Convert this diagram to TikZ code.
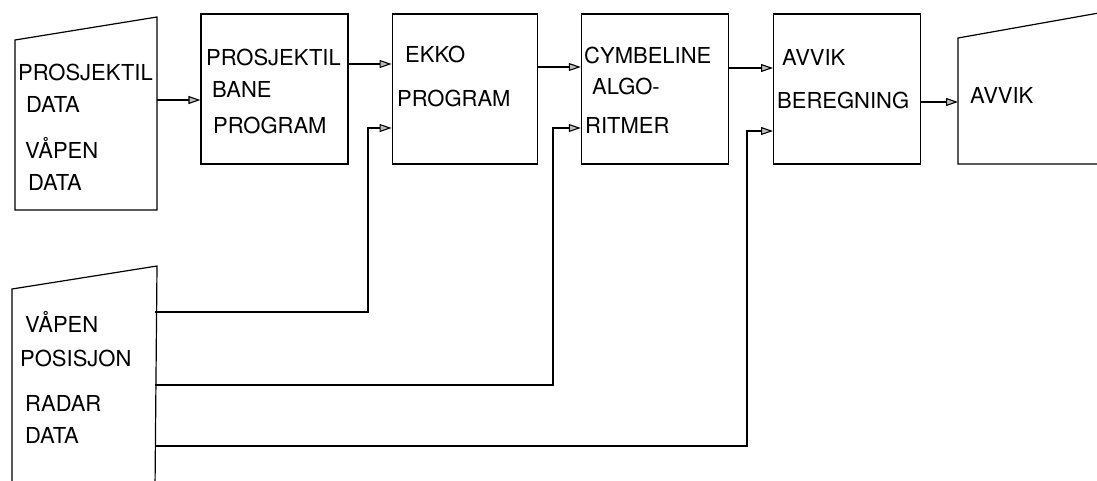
\documentclass[tikz,border=0pt]{standalone}
\usepackage{fontspec}
\setsansfont{TeX Gyre Heros}
\usetikzlibrary{arrows.meta,positioning}
\tikzset{
  blokk/.style={draw,line width=1.2pt,minimum width=147pt,
    minimum height=150pt,inner sep=0pt},
  tekst/.style={font=\sffamily\fontsize{22}{32}\selectfont,
    align=left,anchor=base west,inner sep=0pt},
  pil/.style={line width=1.1pt,
    -{Triangle[length=12pt,width=8pt,fill=gray!50]}},
  linje/.style={line width=1.2pt},
}
\begin{document}
\begin{tikzpicture}[x=1pt,y=-1pt]
  \useasboundingbox (0,0) rectangle (1097,480);
  \clip (0,0) rectangle (1097,480);
  % inndata (tekstnodene festes i siste linjes grunnlinje)
  \draw[linje] (15,210) -- (15,40) -- (157,17) -- (157,210) -- cycle;
  \coordinate (inn1) at (157,100);
  \node[tekst] (inn1-t) at (18,190)
    {PROSJEKTIL\\\hspace*{8pt}DATA\\[14pt]\hspace*{7pt}VÅPEN\\\hspace*{10pt}DATA};
  \draw[linje] (12,490) -- (12,289) -- (157,266) -- (155,490);
  \coordinate (ut1) at (155,312);
  \coordinate (ut2) at (155,385);
  \coordinate (ut3) at (155,446);
  \node[tekst] (inn2-t) at (20,443)
    {\hspace*{5pt}VÅPEN\\[2pt]POSISJON\\[13pt]\hspace*{5pt}RADAR\\\hspace*{5pt}DATA};
  % programblokker
  \node[blokk] (prog) at (274.5,89) {};
  \node[blokk,minimum width=145pt,right=43pt of prog] (ekko) {};
  \node[blokk,right=43pt of ekko] (cymb) {};
  \node[blokk,right=44pt of cymb] (avvik) {};
  \node[tekst] (prog-t) at (206,133)
    {PROSJEKTIL\\\hspace*{6pt}BANE\\[4pt]\hspace*{7pt}PROGRAM};
  \node[tekst] (ekko-t) at (397,106)
    {\hspace*{8pt}EKKO\\[12pt]PROGRAM};
  \node[tekst] (cymb-t) at (584,133)
    {CYMBELINE\\[-1pt]\hspace*{8pt}ALGO-\\[7pt]\hspace*{1pt}RITMER};
  \node[tekst] (avvik-t) at (777,108)
    {\hspace*{5pt}AVVIK\\[11pt]BEREGNING};
  % utdata
  \draw[linje] (1110,164) -- (958,164) -- (958,38) -- (1110,11);
  \coordinate (avvut) at (958,102);
  \node[tekst] (avvut-t) at (970,103) {AVVIK};
  % forbindelser
  \draw[pil] (inn1) -- (inn1 -| prog.west);
  \draw[pil] ([yshift=25pt]prog.east) -- ([yshift=25pt]ekko.west);
  \draw[pil] ([yshift=22pt]ekko.east) -- ([yshift=22pt]cymb.west);
  \draw[pil] ([yshift=21pt]cymb.east) -- ([yshift=21pt]avvik.west);
  \draw[pil] (avvut -| avvik.east) -- (avvut);
  \draw[pil] (ut1) -- ++(213,0) |- ([yshift=-39pt]ekko.west);
  \draw[pil] (ut2) -- ++(398,0) |- ([yshift=-39pt]cymb.west);
  \draw[pil] (ut3) -- ++(592,0) |- ([yshift=-42pt]avvik.west);
\end{tikzpicture}
\end{document}
